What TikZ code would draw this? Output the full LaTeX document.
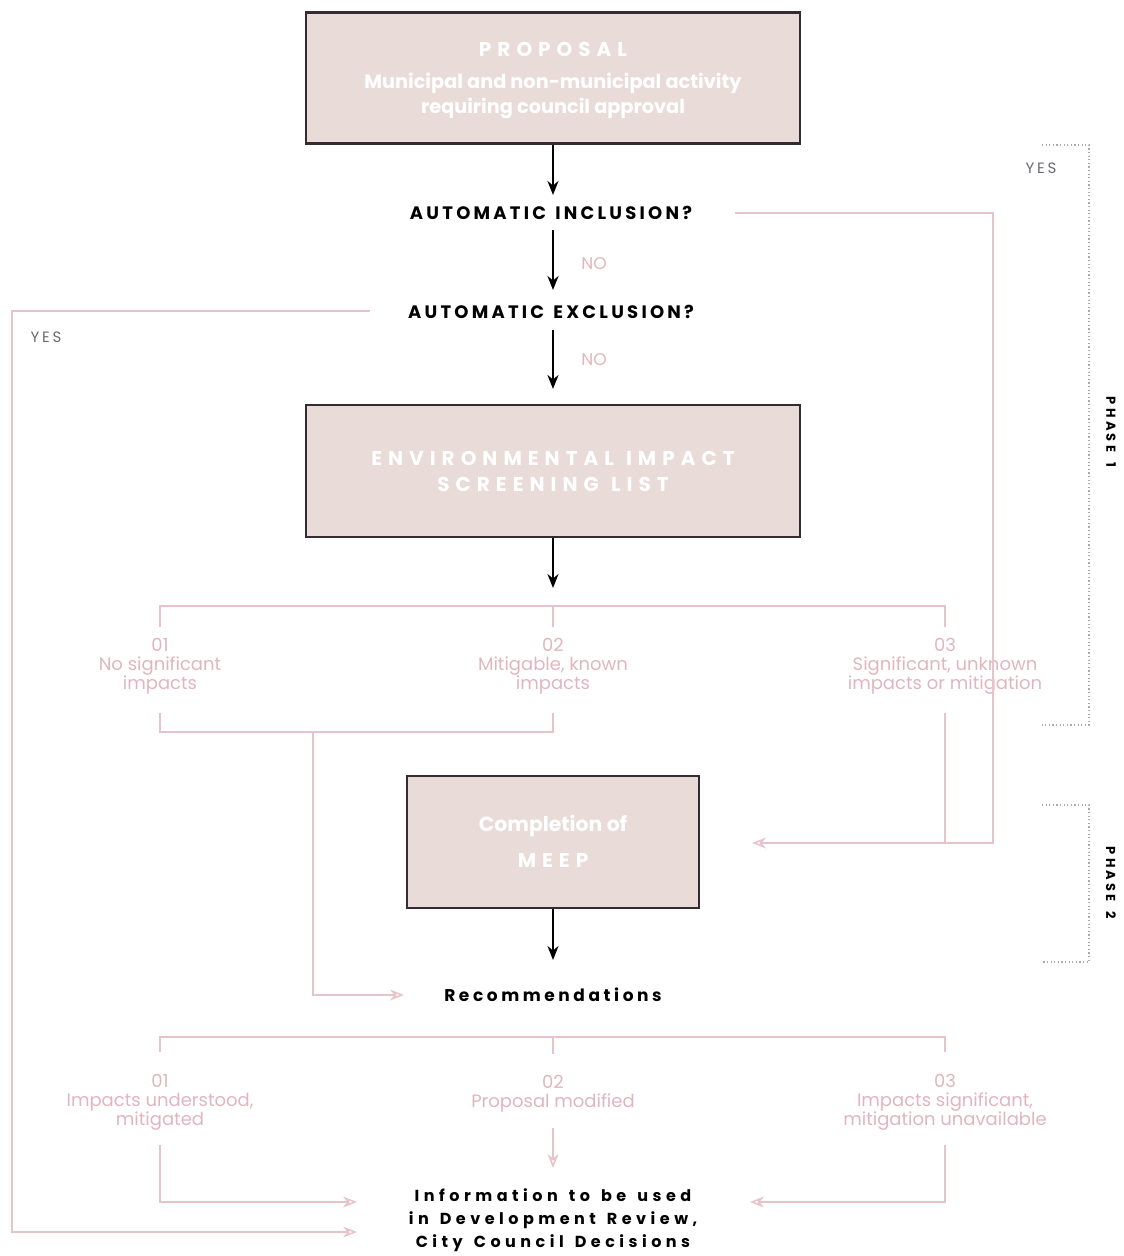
\documentclass[tikz,border=0pt]{standalone}
\usepackage{fontspec}
\setmainfont{Poppins}
\newfontfamily\qfont[LetterSpace=18]{Poppins}
\newfontfamily\wfont[LetterSpace=21]{Poppins}
\newfontfamily\ifont[LetterSpace=28]{Poppins}
\newfontfamily\hfont[LetterSpace=30]{Poppins}
\newfontfamily\pfont[LetterSpace=25]{Poppins}
\newcommand{\wsp}[1]{\makebox[#1]{}\ }
\usetikzlibrary{arrows.meta}
\definecolor{boxfill}{RGB}{233,219,216}
\definecolor{boxline}{RGB}{52,44,50}
\definecolor{pkline}{RGB}{230,196,202}
\definecolor{pktext}{RGB}{224,182,190}
\definecolor{yesgrey}{RGB}{105,105,112}
\definecolor{dotgrey}{RGB}{170,170,170}
\tikzset{
  box/.style={draw=boxline, line width=2.6pt, fill=boxfill, text=white, align=center, inner sep=0pt},
  boxhead/.style={font=\hfont\bfseries\fontsize{20}{26}\selectfont},
  qtext/.style={font=\qfont\bfseries\fontsize{18}{22}\selectfont, text=black, inner sep=1pt},
  wtext/.style={font=\wfont\bfseries\fontsize{17}{23}\selectfont, text=black, inner sep=1pt, align=center},
  itext/.style={font=\ifont\bfseries\fontsize{16}{23}\selectfont, text=black, inner sep=1pt, align=center},
  lab/.style={font=\fontsize{18}{19}\selectfont, text=pktext, align=center, inner sep=1pt},
  nolab/.style={font=\fontsize{17}{18}\selectfont, text=pktext, inner sep=0pt},
  yeslab/.style={font=\qfont\fontsize{15}{18}\selectfont, text=yesgrey, inner sep=0pt},
  phase/.style={font=\pfont\bfseries\fontsize{13}{14}\selectfont, text=black, rotate=-90, inner sep=0pt},
  blk/.style={line width=2.2pt, draw=black, -{Stealth[length=14pt,width=11pt]}},
  pk/.style={draw=pkline, line width=1.6pt},
  pka/.style={pk, -{Stealth[open,length=14pt,width=11pt]}},
  dots/.style={draw=dotgrey, line width=1.2pt, dash pattern=on 1.2pt off 2.4pt}
}
\begin{document}
\begin{tikzpicture}[x=1pt,y=-1pt]
\useasboundingbox (0,0) rectangle (1124,1256);

% boxes
\node[box, minimum width=494pt, minimum height=131pt] (prop) at (553,78) {};
\node[boxhead, text=white] (propt) at (553,49) {PROPOSAL};
\node[font=\bfseries\fontsize{19.3}{25}\selectfont, text=white, align=center] (propd) at (553,96) {Municipal and non-municipal activity\\requiring council approval};

\node[qtext] (inc) at (551,213) {AUTOMATIC\wsp{0.12em}INCLUSION?};
\node[qtext] (exc) at (551,312) {AUTOMATIC\wsp{0.12em}EXCLUSION?};
\node[nolab] (no1) at (594,264) {NO};
\node[nolab] (no2) at (594,360) {NO};
\node[yeslab] (yes1) at (1041,168) {YES};
\node[yeslab] (yes2) at (46,337) {YES};

\node[box, boxhead, minimum width=494pt, minimum height=132pt, text=white] (esl) at (553,471) {ENVIRONMENTAL\wsp{0.1em}IMPACT\\SCREENING\wsp{0.1em}LIST};

% screening outcomes
\node[lab] (s1) at (160,666) {01\\No significant\\impacts};
\node[lab] (s2) at (553,666) {02\\Mitigable, known\\impacts};
\node[lab] (s3) at (945,666) {03\\Significant, unknown\\impacts or mitigation};

\node[box, minimum width=292pt, minimum height=132pt] (meep) at (553,842) {};
\node[font=\bfseries\fontsize{20.4}{25}\selectfont, text=white, align=center] (meept) at (553,826) {Completion of};
\node[boxhead, text=white] (meepm) at (553,860) {MEEP};

\node[wtext] (rec) at (553,995) {Recommendations};

\node[lab] (r1) at (160,1102) {01\\Impacts understood,\\mitigated};
\node[lab] (r2) at (553,1094) {02\\Proposal modified};
\node[lab] (r3) at (945,1102) {03\\Impacts significant,\\mitigation unavailable};

\node[itext] (info) at (553,1220) {Information\wsp{0.2em}to\wsp{0.2em}be\wsp{0.2em}used\\in\wsp{0.2em}Development\wsp{0.2em}Review,\\City\wsp{0.2em}Council\wsp{0.2em}Decisions};

% coordinates
\coordinate (incR) at (735,213);
\coordinate (incC) at (993,213);
\coordinate (mC) at (993,843);
\coordinate (mIn) at (752,843);
\coordinate (excL) at (370,311);
\coordinate (excC) at (12,311);
\coordinate (botC) at (12,1232);
\coordinate (botIn) at (357,1232);
\coordinate (recIn) at (404,995);

% black arrows
\draw[blk] (prop.south) -- (553,195);
\draw[blk] (553,230) -- (553,290);
\draw[blk] (553,330) -- (553,389);
\draw[blk] (esl.south) -- (553,588);
\draw[blk] (meep.south) -- (553,960);

% inclusion YES path
\draw[pka] (incR) -- (incC) -- (mC) -- (mIn);
% exclusion YES path
\draw[pka] (excL) -- (excC) -- (botC) -- (botIn);

% screening bracket
\draw[pk] (160,627) -- (160,606) -- (945,606) -- (945,627);
\draw[pk] (553,606) -- (553,627);
\draw[pk] (160,713) -- (160,732) -- (553,732) -- (553,713);
\draw[pka] (313,732) -- (313,995) -- (recIn);
\draw[pk] (945,713) -- (945,843);

% recommendation bracket
\draw[pk] (160,1052) -- (160,1037) -- (945,1037) -- (945,1052);
\draw[pk] (553,1037) -- (553,1054);
\draw[pka] (160,1145) -- (160,1202) -- (357,1202);
\draw[pka] (553,1128) -- (553,1168);
\draw[pka] (945,1145) -- (945,1202) -- (750,1202);

% phase brackets
\draw[dots] (1042,145) -- (1089,145) -- (1089,725) -- (1042,725);
\draw[dots] (1042,805) -- (1089,805) -- (1089,962) -- (1042,962);
\node[phase] (ph1) at (1111,432) {PHASE\wsp{0.3em}1};
\node[phase] (ph2) at (1111,883) {PHASE\wsp{0.3em}2};
\end{tikzpicture}
\end{document}
